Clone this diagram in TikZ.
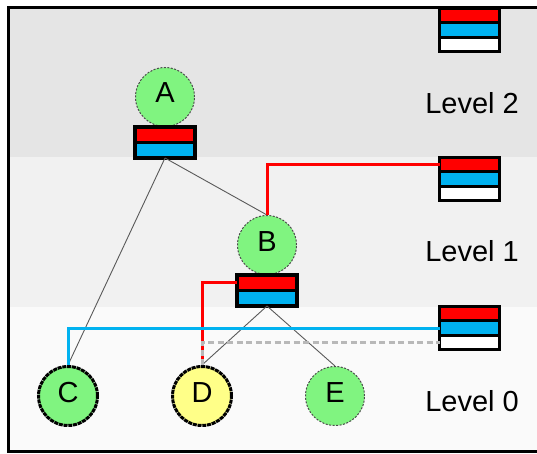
\documentclass[tikz,border=0pt]{standalone}
\usepackage{fontspec}
\setmainfont{Liberation Sans}
\usepackage{xcolor}
\usetikzlibrary{positioning}

\definecolor{nodegreen}{RGB}{128,244,128}
\definecolor{nodeyellow}{RGB}{255,255,136}
\definecolor{bufred}{RGB}{255,0,0}
\definecolor{bufblue}{RGB}{0,178,240}
\definecolor{bandtwo}{RGB}{229,229,229}
\definecolor{bandone}{RGB}{241,241,241}
\definecolor{bandzero}{RGB}{250,250,250}

\begin{document}
\begin{tikzpicture}[x=1pt, y=-1pt, font=\fontsize{29}{34}\selectfont,
  vtx/.style={circle, draw=black!70, line width=1pt, dash pattern=on 2pt off 1.5pt, fill=nodegreen, minimum size=59pt, inner sep=0pt, text height=1.2em, text depth=0pt},
  hot/.style={vtx, draw=black, line width=3pt, dash pattern=on 4pt off 0.8pt},
  slot/.style={draw, line width=3.4pt, minimum width=60pt, minimum height=15.5pt, inner sep=0pt, outer sep=0pt},
  lvslot/.style={slot, minimum height=14.5pt},
  link/.style={draw=black!65, line width=0.9pt},
  redlink/.style={draw=bufred, line width=3pt},
  bluelink/.style={draw=bufblue, line width=3pt},
  greylink/.style={draw=black!28, line width=3pt, dash pattern=on 6pt off 3.5pt}]
\useasboundingbox (0,0) rectangle (537,454);
\clip (0,0) rectangle (537,454);
% level bands and frame
\fill[bandtwo] (8,8) rectangle (560,157);
\fill[bandone] (8,157) rectangle (560,307);
\fill[bandzero] (8,307) rectangle (560,451);
\draw[line width=3pt] (8.5,8) rectangle (560,451.5);
% tree nodes with their buffers
\node[vtx] (A) at (165,97) {A};
\node[slot, fill=bufred, below=0pt of A] (A1) {};
\node[slot, fill=bufblue, below=0pt of A1] (A2) {};
\node[vtx] (B) at (267,245) {B};
\node[slot, fill=bufred, below=0pt of B] (B1) {};
\node[slot, fill=bufblue, below=0pt of B1] (B2) {};
\node[hot] (C) at (68,396) {C};
\node[hot, fill=nodeyellow] (D) at (202,396) {D};
\node[vtx] (E) at (335,396) {E};
% per-level buffers and labels
\foreach \lv/\yb/\yl in {2/30/103, 1/179/251, 0/328/401}{
  \node[lvslot, fill=bufblue] (L\lv b) at (469.5,\yb) {};
  \node[lvslot, fill=bufred, above=0pt of L\lv b] (L\lv r) {};
  \node[lvslot, fill=white, below=0pt of L\lv b] (L\lv w) {};
  \node (lab\lv) at (472,\yl) {Level \lv};
}
\draw[link] (A2.south) -- (C.north);
\draw[link] (A2.south) -- (B.north);
\draw[link] (B2.south) -- (D.north);
\draw[link] (B2.south) -- (E.north);
\draw[redlink] (B.north) |- (L1r.west);
\draw[redlink] (B1.west) -| (D.north);
\draw[bluelink] (C.north) |- (L0b.west);
\draw[greylink] (D.north) |- (L0w.west);
\end{tikzpicture}
\end{document}
